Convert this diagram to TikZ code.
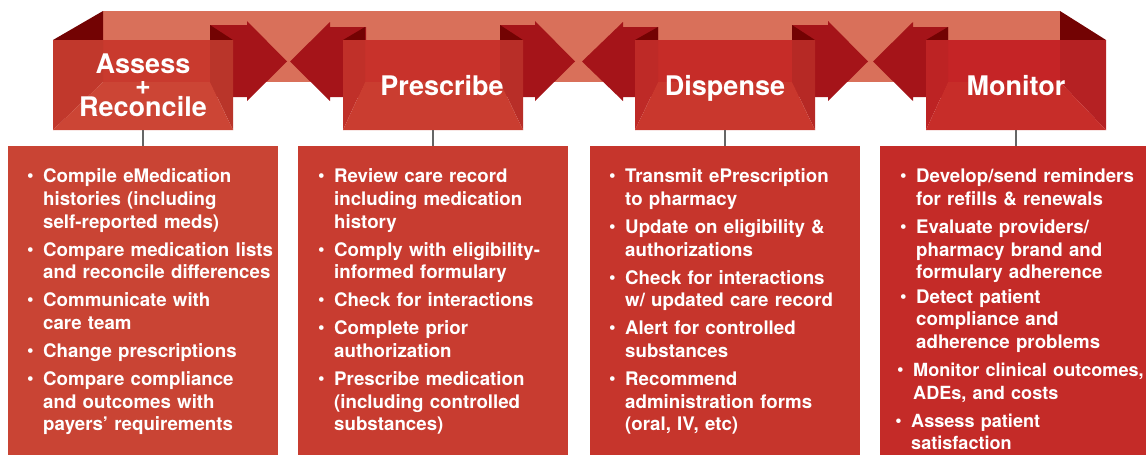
\documentclass[tikz,border=0pt]{standalone}
\usepackage{fontspec}
\setmainfont{TeX Gyre Heros}
\usepackage{enumitem}
\setlist[itemize]{leftmargin=17pt,labelsep=9.5pt,itemsep=5.5pt,topsep=0pt,parsep=0pt,partopsep=0pt}
\usetikzlibrary{calc,positioning}
\definecolor{bandred}{HTML}{D9705A}
\definecolor{folddark}{HTML}{730303}
\definecolor{arrowred}{HTML}{A51419}
\definecolor{boxa}{HTML}{C93A2E}
\definecolor{boxb}{HTML}{C8322B}
\definecolor{boxc}{HTML}{C62C28}
\definecolor{boxd}{HTML}{C52426}
\definecolor{floora}{HTML}{CC4535}
\definecolor{floorb}{HTML}{CA3D30}
\definecolor{floorc}{HTML}{C9372D}
\definecolor{floord}{HTML}{C72D29}
\definecolor{panela}{HTML}{C94434}
\definecolor{panelb}{HTML}{C83C30}
\definecolor{panelc}{HTML}{C6352C}
\definecolor{paneld}{HTML}{C42B28}
\definecolor{linkgray}{HTML}{666666}
\tikzset{
    myhead/.style={text=white,align=center,inner sep=0pt,minimum width=180pt,minimum height=90pt,
                   font=\bfseries\fontsize{27}{21.5}\selectfont},
    myline/.style={text height=21pt,text depth=0pt},
    mypanel/.style={anchor=north west,inner sep=0pt,minimum width=270pt,minimum height=309pt},
    mylist/.style={anchor=north west,inner sep=0pt,text=white,text width=262pt,align=left,
                   font=\bfseries\fontsize{18.7}{22.6}\selectfont},
    mylink/.style={draw=linkgray,line width=1.8pt},
    myarrow/.style={fill=arrowred},
    myfold/.style={fill=folddark}
}
\begin{document}
\begin{tikzpicture}[x=1pt,y=-1pt]
  \useasboundingbox (0,0) rectangle (1146,455);
  % ribbon over the top
  \fill[bandred] (103,11) rectangle (1060,82);
  \fill[myfold] (53,40) -- (103,11) -- (103,40) -- cycle;
  \fill[myfold] (1060,11) -- (1106,40) -- (1060,40) -- cycle;
  % arrows between stages
  \foreach \a/\b/\t in {210/247/287,500/535/575,792/828/868}
    \fill[myarrow] (\a,25) -- (\b,25) -- (\b,21) -- (\t,61.5) -- (\b,101) -- (\b,97) -- (\a,97) -- cycle;
  \foreach \t/\b/\a in {290/330/366,582/623/658,873/913/948}
    \fill[myarrow] (\a,27) -- (\b,27) -- (\b,22) -- (\t,61.5) -- (\b,101) -- (\b,97) -- (\a,97) -- cycle;
  \foreach \a/\b in {210/233,500/523,792/815}
    \fill[myfold] (\a,25) -- (\b,40) -- (\a,40) -- cycle;
  \foreach \a/\b in {343/365,635/658,926/948}
    \fill[myfold] (\b,27) -- (\b,40) -- (\a,40) -- cycle;
  % stage boxes
  \foreach \L/\l/\r/\R/\c/\f in {53/103/210/233/boxa/floora,343/365/500/523/boxb/floorb,
                                 635/658/792/815/boxc/floorc,926/948/1060/1106/boxd/floord}{
    \fill[\c] (\l,40) rectangle (\r,82);
    \fill[\c!96!black] (\L,40) -- (\l,40) -- (\l,82) -- (\L,130) -- cycle;
    \fill[\c!92!black] (\r,40) -- (\R,40) -- (\R,130) -- (\r,82) -- cycle;
    \fill[\f] (\L,130) -- (\l,82) -- (\r,82) -- (\R,130) -- cycle;
  }
  \node[myhead] (box1) at (143,85) {Assess\\+\\Reconcile};
  \node[myhead,myline] (box2) at (433,85) {\hspace*{18pt}Prescribe};
  \node[myhead,myline] (box3) at (725,85) {Dispense};
  \node[myhead,myline] (box4) at (1016,85) {Monitor};
  % task panels
  \node[mypanel,fill=panela] (panel1) at (8,146) {};
  \node[mypanel,fill=panelb] (panel2) at (298,146) {};
  \node[mypanel,fill=panelc] (panel3) at (590,146) {};
  \node[mypanel,fill=paneld,minimum width=266pt] (panel4) at (880,146) {};
  \foreach \i in {1,...,4}
    \draw[mylink] (box\i.south) -- (box\i.south |- panel\i.north);
  \node[mylist] (list1) at ($(panel1.north west)+(18,14)$) {\begin{itemize}
    \item Compile eMedication\\histories (including\\self-reported meds)
    \item Compare medication lists\\and reconcile differences
    \item Communicate with\\care team
    \item Change prescriptions
    \item Compare compliance\\and outcomes with\\payers’ requirements
  \end{itemize}};
  \node[mylist] (list2) at ($(panel2.north west)+(19,14)$) {\begin{itemize}
    \item Review care record\\including medication\\history
    \item Comply with eligibility-\\informed formulary
    \item Check for interactions
    \item Complete prior\\authorization
    \item Prescribe medication\\(including controlled\\substances)
  \end{itemize}};
  \node[mylist] (list3) at ($(panel3.north west)+(18,14)$) {\begin{itemize}
    \item Transmit ePrescription\\to pharmacy
    \item Update on eligibility \&\\authorizations
    \item Check for interactions\\w/ updated care record
    \item Alert for controlled\\substances
    \item Recommend\\administration forms\\(oral, IV, etc)
  \end{itemize}};
  \node[mylist] (list4) at ($(panel4.north west)+(19,14)$) {\begin{itemize}
    \item Develop/send reminders\\for refills \& renewals
    \item Evaluate providers/\\pharmacy brand and\\formulary adherence
    \vspace{-3.5pt}
    \item Detect patient\\compliance and\\adherence problems
    \item \leftskip=-3pt \fontsize{18.1}{22.6}\selectfont Monitor clinical outcomes,\\ADEs, and costs
    \item \leftskip=-5pt Assess patient\\satisfaction
  \end{itemize}};
\end{tikzpicture}
\end{document}
